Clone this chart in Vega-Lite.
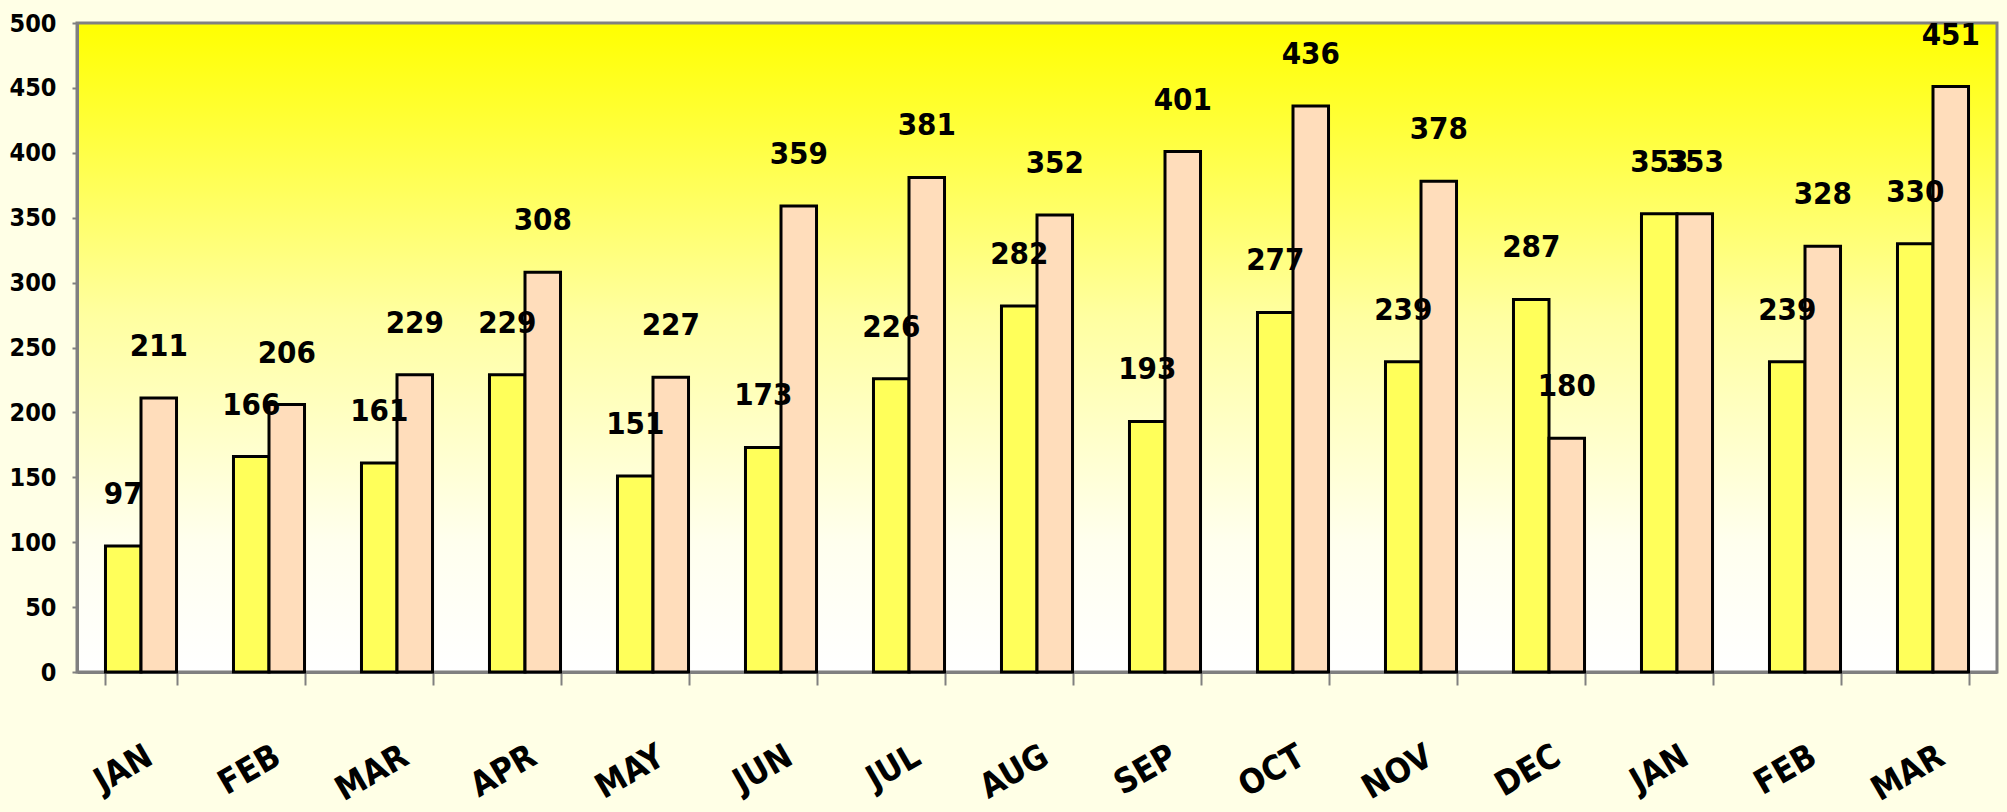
{
  "$schema": "https://vega.github.io/schema/vega-lite/v6.json",
  "width": 1920,
  "height": 649,
  "autosize": {"type": "none"},
  "padding": {"left": 77, "top": 23, "right": 10, "bottom": 140},
  "background": "#FFFFE6",
  "config": {
    "font": "DejaVu Sans Condensed",
    "view": {
      "stroke": "#808080",
      "strokeWidth": 3,
      "fill": {
        "gradient": "linear",
        "x1": 0, "y1": 0, "x2": 0, "y2": 1,
        "stops": [
          {"offset": 0, "color": "#FFFF00"},
          {"offset": 0.45, "color": "#FFFFA0"},
          {"offset": 0.8, "color": "#FFFFEE"},
          {"offset": 1, "color": "#FFFFFF"}
        ]
      }
    },
    "axis": {
      "grid": false,
      "domainColor": "#808080",
      "tickColor": "#808080",
      "labelColor": "#000000",
      "labelFont": "DejaVu Sans Condensed",
      "labelFontWeight": "bold"
    }
  },
  "data": {
    "values": [
      {"period": "JAN-1", "series": "Series1", "value": 97},
      {"period": "JAN-1", "series": "Series2", "value": 211},
      {"period": "FEB-1", "series": "Series1", "value": 166},
      {"period": "FEB-1", "series": "Series2", "value": 206},
      {"period": "MAR-1", "series": "Series1", "value": 161},
      {"period": "MAR-1", "series": "Series2", "value": 229},
      {"period": "APR-1", "series": "Series1", "value": 229},
      {"period": "APR-1", "series": "Series2", "value": 308},
      {"period": "MAY-1", "series": "Series1", "value": 151},
      {"period": "MAY-1", "series": "Series2", "value": 227},
      {"period": "JUN-1", "series": "Series1", "value": 173},
      {"period": "JUN-1", "series": "Series2", "value": 359},
      {"period": "JUL-1", "series": "Series1", "value": 226},
      {"period": "JUL-1", "series": "Series2", "value": 381},
      {"period": "AUG-1", "series": "Series1", "value": 282},
      {"period": "AUG-1", "series": "Series2", "value": 352},
      {"period": "SEP-1", "series": "Series1", "value": 193},
      {"period": "SEP-1", "series": "Series2", "value": 401},
      {"period": "OCT-1", "series": "Series1", "value": 277},
      {"period": "OCT-1", "series": "Series2", "value": 436},
      {"period": "NOV-1", "series": "Series1", "value": 239},
      {"period": "NOV-1", "series": "Series2", "value": 378},
      {"period": "DEC-1", "series": "Series1", "value": 287},
      {"period": "DEC-1", "series": "Series2", "value": 180},
      {"period": "JAN-2", "series": "Series1", "value": 353},
      {"period": "JAN-2", "series": "Series2", "value": 353},
      {"period": "FEB-2", "series": "Series1", "value": 239},
      {"period": "FEB-2", "series": "Series2", "value": 328},
      {"period": "MAR-2", "series": "Series1", "value": 330},
      {"period": "MAR-2", "series": "Series2", "value": 451}
    ]
  },
  "encoding": {
    "x": {
      "field": "period",
      "type": "nominal",
      "sort": null,
      "scale": {"paddingInner": 0.445, "paddingOuter": 0.2225},
      "axis": {
        "title": null,
        "labelExpr": "datum.value ? split(datum.value, '-')[0] : ''",
        "labelAngle": -30,
        "labelAlign": "right",
        "labelBaseline": "top",
        "labelFontSize": 34,
        "labelPadding": 54,
        "tickSize": 13,
        "tickWidth": 2,
        "tickBand": "extent",
        "domainWidth": 3
      }
    },
    "xOffset": {"field": "series", "type": "nominal"},
    "y": {
      "field": "value",
      "type": "quantitative",
      "scale": {"domain": [0, 500], "nice": false},
      "axis": {
        "title": null,
        "values": [0, 50, 100, 150, 200, 250, 300, 350, 400, 450, 500],
        "labelFontSize": 25,
        "tickSize": 5,
        "tickWidth": 2,
        "labelPadding": 16,
        "domainWidth": 3
      }
    }
  },
  "layer": [
    {
      "mark": {"type": "bar", "stroke": "#000000", "strokeWidth": 3},
      "encoding": {
        "fill": {
          "field": "series",
          "type": "nominal",
          "scale": {"domain": ["Series1", "Series2"], "range": ["#FFFF5A", "#FFDDBB"]},
          "legend": null
        }
      }
    },
    {
      "mark": {
        "type": "text",
        "dy": -42,
        "baseline": "alphabetic",
        "align": "center",
        "fontSize": 31,
        "fontWeight": "bold",
        "color": "#000000",
        "font": "DejaVu Sans Condensed"
      },
      "encoding": {"text": {"field": "value", "type": "quantitative"}}
    }
  ]
}
